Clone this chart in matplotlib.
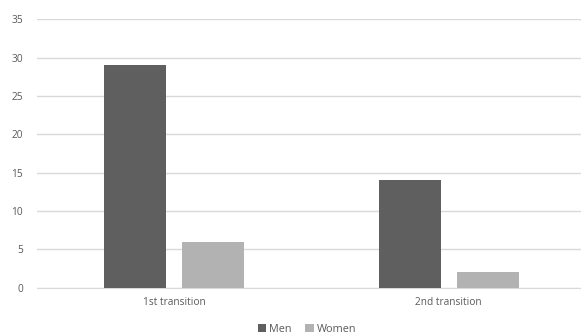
import matplotlib.pyplot as plt
import numpy as np

categories = ["1st transition", "2nd transition"]
men = [29, 14]
women = [6, 2]
yticks = [0, 5, 10, 15, 20, 25, 30, 35]

plt.rcParams['font.family'] = ['Open Sans', 'DejaVu Sans']

fig = plt.figure(figsize=(5.81, 3.36), dpi=100)
ax = fig.add_axes([37/581, 1 - 287.5/336, 549/581, (287.5 - 19.5)/336])

x = np.arange(len(categories))
w = 0.226
off = 0.142
ax.bar(x - off, men, w, color="#5f5f5f", label="Men", zorder=3)
ax.bar(x + off, women, w, color="#b2b2b2", label="Women", zorder=3)

ax.set_xlim(-0.5, 1.5)
ax.set_ylim(0, 35)
ax.set_yticks(yticks)
ax.set_xticks(x)
ax.set_xticklabels(categories)
ax.grid(axis="y", color="#d9d9d9", linewidth=1, zorder=0)
for s in ["top", "right", "left"]:
    ax.spines[s].set_visible(False)
ax.spines["bottom"].set_color("#d9d9d9")
ax.tick_params(length=0, labelsize=7.3, labelcolor="#595959")
ax.tick_params(axis="y", pad=10)
ax.tick_params(axis="x", pad=7)

fig.legend(loc="center", bbox_to_anchor=(307/581, 1 - 329/336), ncol=2,
           frameon=False, fontsize=7.8, labelcolor="#595959",
           handlelength=0.8, handleheight=0.8, handletextpad=0.3,
           columnspacing=1.2)

fig.savefig("out.png", dpi=100)
